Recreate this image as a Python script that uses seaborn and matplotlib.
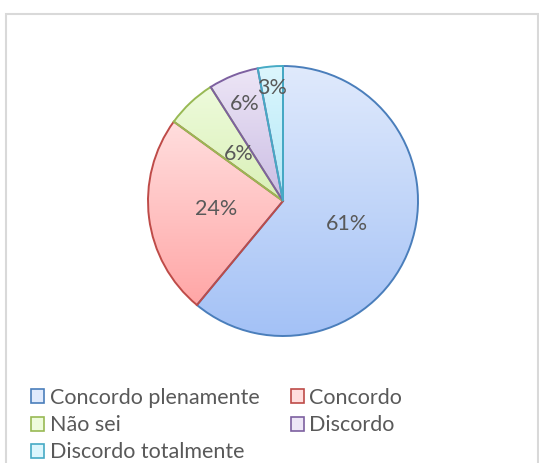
import numpy as np
import matplotlib
matplotlib.use("Agg")
import matplotlib.pyplot as plt
import matplotlib.patches as mpatches
from matplotlib.colors import LinearSegmentedColormap
import seaborn as sns

# Survey answers and their shares (%)
categories = ["Concordo plenamente", "Concordo", "Não sei", "Discordo", "Discordo totalmente"]
shares = [61, 24, 6, 6, 3]

# Per-slice style: gradient (top, bottom), outline, label radius
grad_top = ["#e0eafc", "#ffdede", "#eefbdc", "#ede6f6", "#dcf6fd"]
grad_bottom = ["#a3c1f6", "#ffa6a6", "#d9f0b6", "#cbbde4", "#b2e8f7"]
edges = ["#4a7ebb", "#be4b48", "#98b954", "#7d60a0", "#46aac5"]
label_r = [0.50, 0.50, 0.48, 0.77, 0.84]

sns.set_theme(style="white")
plt.rcParams["font.family"] = ["Lato", "DejaVu Sans"]
text_color = "#595959"

fig = plt.figure(figsize=(5.39, 4.63), dpi=100)
fig.patch.set_facecolor("white")

# Chart-area border
W, H = 539, 463
fig.add_artist(mpatches.Rectangle((6 / W, -0.02), (532 / W), (H - 14) / H + 0.02,
                                  transform=fig.transFigure, fill=False,
                                  edgecolor="#d9d9d9", linewidth=1.5))

# Pie centred at (283, 201) px with a 135 px radius
lim = 1.02
size = 135 * lim
ax = fig.add_axes([(283 - size) / W, (H - 201 - size) / H, 2 * size / W, 2 * size / H])
ax.set_aspect("equal")
ax.axis("off")

wedges, _ = ax.pie(shares, startangle=90, counterclock=False, radius=1.0,
                   colors=grad_top,
                   wedgeprops=dict(linewidth=1.4, edgecolor="none"))

for i, w in enumerate(wedges):
    w.set_facecolor("none")
    verts = w.get_path().vertices
    x0, y0 = verts.min(axis=0)
    x1, y1 = verts.max(axis=0)
    cmap = LinearSegmentedColormap.from_list(f"g{i}", [grad_bottom[i], grad_top[i]])
    grad = np.linspace(0, 1, 256).reshape(-1, 1)
    im = ax.imshow(grad, cmap=cmap, origin="lower", aspect="auto",
                   extent=[x0, x1, y0, y1], zorder=1, interpolation="bilinear")
    im.set_clip_path(w)
    outline = mpatches.Wedge(w.center, w.r, w.theta1, w.theta2, facecolor="none",
                             edgecolor=edges[i], linewidth=1.4, zorder=3)
    ax.add_patch(outline)

    ang = np.deg2rad((w.theta1 + w.theta2) / 2)
    ax.text(label_r[i] * np.cos(ang), label_r[i] * np.sin(ang), f"{shares[i]}%",
            ha="center", va="center", fontsize=15.5, color=text_color, zorder=4)

ax.set_xlim(-lim, lim)
ax.set_ylim(-lim, lim)

handles = [mpatches.Patch(facecolor=grad_top[i], edgecolor=edges[i], linewidth=1.2,
                          label=categories[i]) for i in range(len(categories))]
order = [0, 2, 4, 1, 3]
leg = fig.legend([handles[i] for i in order], [categories[i] for i in order],
                 ncol=2, loc="upper left", bbox_to_anchor=(31 / W, 1 - 388 / H),
                 frameon=False, fontsize=15.5, handlelength=0.62, handleheight=0.62,
                 handletextpad=0.25, columnspacing=1.45, labelspacing=0.33,
                 borderpad=0.0, borderaxespad=0.0)
for t in leg.get_texts():
    t.set_color(text_color)

fig.savefig("out.png", dpi=100, facecolor="white")
